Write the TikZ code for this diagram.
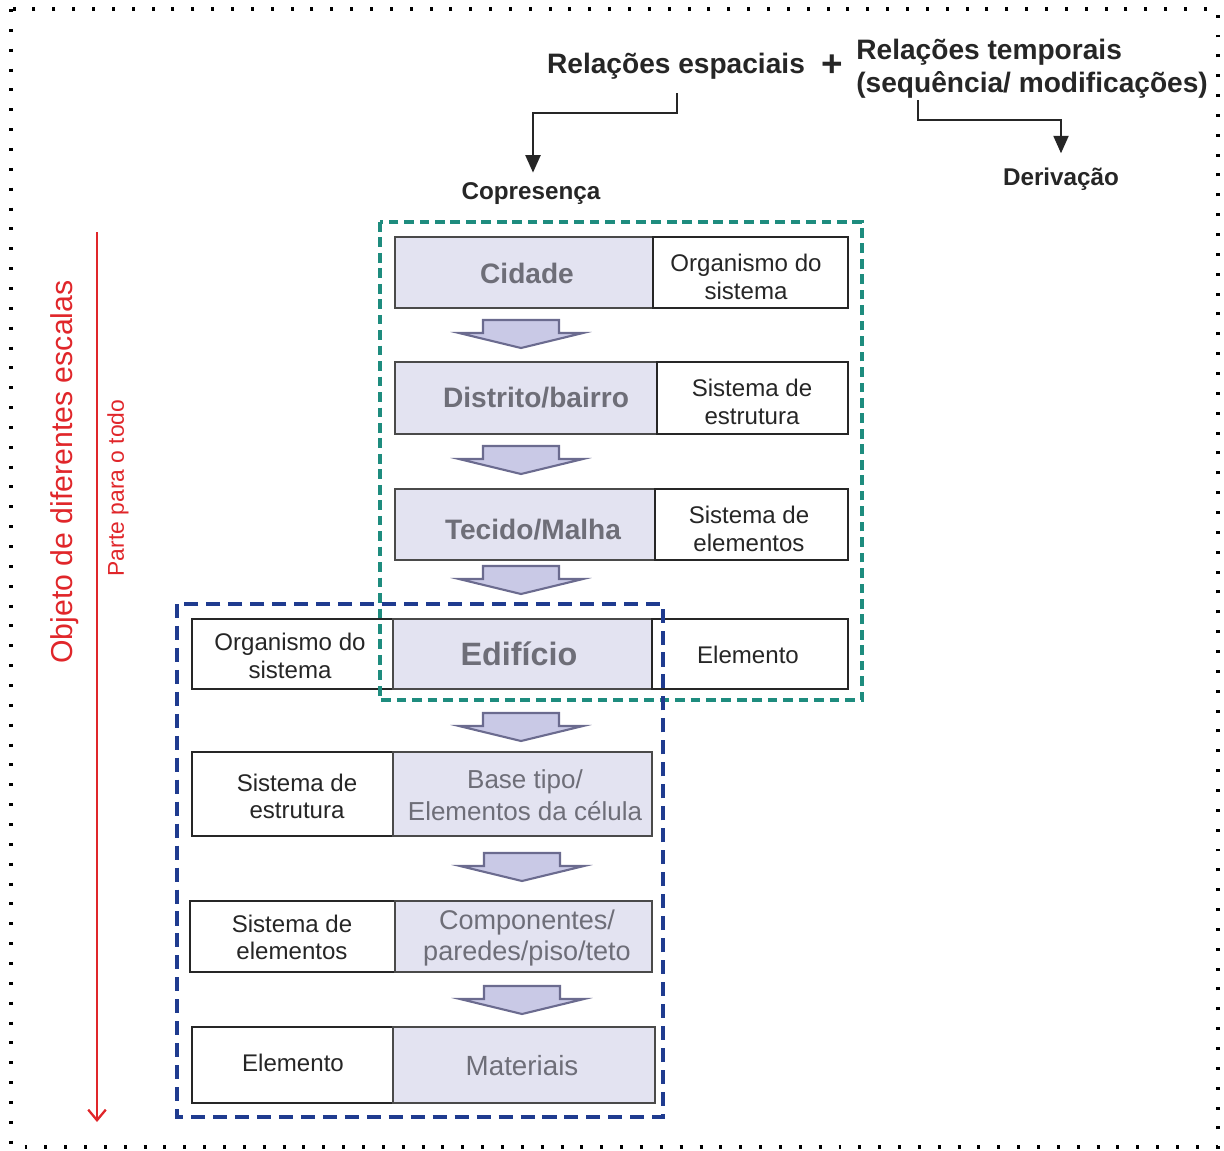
\documentclass[tikz,border=0pt]{standalone}
\usepackage{fontspec}
\setmainfont{Liberation Sans}
\usetikzlibrary{arrows.meta,calc,fit}
\definecolor{boxgray}{HTML}{E3E3F1}
\definecolor{boxedge}{HTML}{4A4A4A}
\definecolor{graytext}{HTML}{6E6E78}
\definecolor{arrfill}{HTML}{C9C9E6}
\definecolor{arredge}{HTML}{6B6B8F}
\definecolor{tealdash}{HTML}{1E8C7E}
\definecolor{bluedash}{HTML}{1F3B8F}
\definecolor{redline}{HTML}{E0262A}
\tikzset{
  graybox/.style={draw=boxedge, fill=boxgray, line width=1.1pt, inner sep=0pt},
  whitebox/.style={draw=black!85, fill=white, line width=1.1pt, inner sep=0pt},
  wtext/.style={inner sep=0pt, align=center, text=black!85, font=\fontsize{13.7}{15.5}\selectfont},
  gbold/.style={inner sep=0pt, align=center, text=graytext, font=\fontsize{16}{18}\selectfont\bfseries},
  greg/.style={inner sep=0pt, align=center, text=graytext, font=\fontsize{14.8}{18}\selectfont},
  toptext/.style={inner sep=0pt, text=black!85, font=\fontsize{16}{18.7}\selectfont\bfseries},
  smalltop/.style={inner sep=0pt, text=black!85, font=\fontsize{13.8}{16}\selectfont\bfseries},
  blk/.style={line width=1.4pt, draw=black!85, -{Triangle[length=10pt,width=8.5pt]}},
  downarr/.pic={\draw[draw=arredge, fill=arrfill, line width=1.2pt, line join=miter]
     (-38,0) -- (38,0) -- (38,13) -- (62,13) -- (0,28) -- (-62,13) -- (-38,13) -- cycle;},
  tealbox/.style={draw=tealdash, line width=1.8pt, dash pattern=on 5.5pt off 3.3pt},
  bluebox/.style={draw=bluedash, line width=2.3pt, dash pattern=on 8pt off 4.5pt},
}
\begin{document}
\begin{tikzpicture}[x=0.02cm,y=-0.02cm]
\useasboundingbox (0,0) rectangle (1224,1150);
% outer dotted frame
\draw[line width=1.8pt, dash pattern=on 1.7pt off 9.6pt] (11,9) rectangle (1218,1147);

% top texts
\node[toptext] (esp) at (676,66) {Relações espaciais};
\node[inner sep=0pt, text=black!85, font=\fontsize{21}{21}\selectfont\bfseries] (plus) at (832,66) {+};
\node[toptext, anchor=west, align=left] (tmp) at (856,68.5) {Relações temporais\\(sequência/ modificações)};
\node[smalltop] (copres) at (531,194) {Copresença};
\node[smalltop] (deriv) at (1061,179) {Derivação};
\coordinate (k1) at (533,113);
\coordinate (t1) at (918,100);
\coordinate (k2) at (1061,120);
\draw[blk] ($(esp.south)+(1,14)$) |- (k1) -- ($(k1 |- copres.north)+(0,-10)$);
\draw[blk] (t1) |- (k2) -- ($(deriv.north)+(0,-14)$);

% red scale arrow
\coordinate (r1) at (97,232);
\coordinate (r2) at (97,1122);
\draw[redline, line width=1.3pt, -{Straight Barb[length=6pt,width=10pt,line width=1.3pt]}] (r1) -- (r2);
\node[text=redline, rotate=90, inner sep=0pt, font=\fontsize{17.2}{18}\selectfont] (obj) at (65,472) {Objeto de diferentes escalas};
\node[text=redline, rotate=90, inner sep=0pt, font=\fontsize{13}{14}\selectfont] (parte) at (118,488) {Parte para o todo};

% row 1
\node[graybox, fit={(395,237) (653,308)}] (cidade) {};
\node[whitebox, fit={(653,237) (848,308)}] (org1) {};
% row 2
\node[graybox, fit={(395,362) (657,434)}] (distrito) {};
\node[whitebox, fit={(657,362) (848,434)}] (est1) {};
% row 3
\node[graybox, fit={(395,489) (655,560)}] (tecido) {};
\node[whitebox, fit={(655,489) (848,560)}] (ele1) {};
% row 4
\node[whitebox, fit={(192,619) (393,689)}] (org2) {};
\node[graybox, fit={(393,619) (652,689)}] (edificio) {};
\node[whitebox, fit={(652,619) (848,689)}] (elem1) {};
% row 5
\node[whitebox, fit={(192,752) (393,836)}] (est2) {};
\node[graybox, fit={(393,752) (652,836)}] (base) {};
% row 6
\node[whitebox, fit={(190,901) (395,972)}] (ele2) {};
\node[graybox, fit={(395,901) (652,972)}] (comp) {};
% row 7
\node[whitebox, fit={(192,1027) (393,1103)}] (elem2) {};
\node[graybox, fit={(393,1027) (655,1103)}] (mat) {};

% box texts
\node[gbold] (tcidade) at (527,273) {Cidade};
\node[wtext] (torg1) at (746,277) {Organismo do\\sistema};
\node[gbold] (tdistrito) at (536,398) {Distrito/bairro};
\node[wtext] (test1) at (752,402) {Sistema de\\estrutura};
\node[gbold] (ttecido) at (533,530) {Tecido/Malha};
\node[wtext] (tele1) at (749,529) {Sistema de\\elementos};
\node[wtext] (torg2) at (290,656) {Organismo do\\sistema};
\node[gbold, font=\fontsize{18.4}{20}\selectfont\bfseries] (tedificio) at (519,654) {Edifício};
\node[wtext] (telem1) at (748,655) {Elemento};
\node[wtext] (test2) at (297,796) {Sistema de\\estrutura};
\node[greg] (tbase) at (525,795) {Base tipo/\\Elementos da célula};
\node[wtext] (tele2) at (292,937) {Sistema de\\elementos};
\node[greg, font=\fontsize{15.4}{18}\selectfont] (tcomp) at (527,938) {Componentes/\\paredes/piso/teto};
\node[wtext] (telem2) at (293,1063) {Elemento};
\node[greg, font=\fontsize{15.8}{18}\selectfont] (tmat) at (522,1066) {Materiais};

% block arrows
\pic at (521,320) {downarr};
\pic at (521,446) {downarr};
\pic at (521,566) {downarr};
\pic at (521,713) {downarr};
\pic at (522,853) {downarr};
\pic at (522,986) {downarr};

% dashed groups
\draw[tealbox] (380,222) rectangle (862,700);
\draw[bluebox] (177,604) rectangle (663,1117);
\end{tikzpicture}
\end{document}
